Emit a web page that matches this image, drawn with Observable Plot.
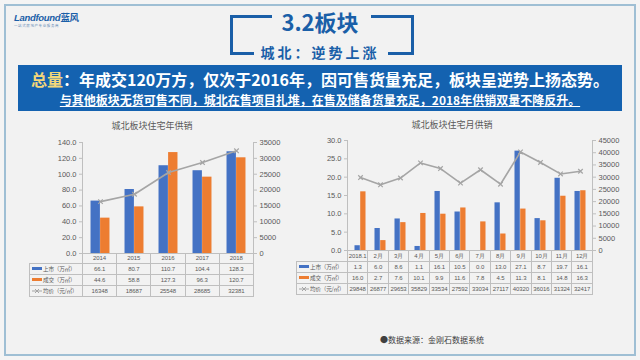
<!DOCTYPE html>
<html><head><meta charset="utf-8">
<script src="https://cdn.jsdelivr.net/npm/d3@7"></script>
<script src="https://cdn.jsdelivr.net/npm/@observablehq/plot@0.6"></script>
<style>
html,body{margin:0;padding:0;width:640px;height:360px;overflow:hidden;background:#f4f4f4;font-family:"Noto Sans CJK SC","Noto Sans",sans-serif;}
.abs{position:absolute;}
#frame{left:4px;top:4px;width:628px;height:348px;border:2px solid #9fbfd4;background:#f2f2f2;}
.br{position:absolute;background:#1a5fa8;}
#title{left:0;width:640px;top:6px;text-align:center;font-size:22px;font-weight:bold;color:#1a5fa8;line-height:30px;}
#sub{left:0;width:640px;top:42px;text-align:center;font-size:14px;font-weight:bold;color:#1a5fa8;letter-spacing:3px;line-height:20px;}
#banner{left:18px;top:65px;width:604px;height:46px;background:#1462b0;}
#l1{left:0;width:640px;top:68px;text-align:center;font-size:16px;font-weight:bold;color:#fff;line-height:22px;}
#l1 span{color:#f3d77a;}
#l2{left:0;width:640px;top:92px;text-align:center;font-size:12px;font-weight:bold;color:#fff;line-height:16px;text-decoration:underline;}
.ctitle{font-size:9px;color:#595959;text-align:center;line-height:12px;}
table.dt{position:absolute;border-collapse:collapse;table-layout:fixed;font-family:"Liberation Sans",Arial,sans-serif;color:#595959;}
table.dt td{border:1px solid #bfbfbf;padding:0;text-align:center;font-size:6px;line-height:9px;overflow:visible;white-space:nowrap;letter-spacing:-0.1px;}
table.dt td.blank{border:none;border-bottom:1px solid #bfbfbf;}
table.dt td.lab{text-align:left;font-family:"Noto Sans CJK SC",sans-serif;font-size:5.6px;padding-left:2px;letter-spacing:-0.2px;}
.sw{display:inline-block;width:10px;height:3px;vertical-align:middle;margin-right:1px;}
#logo{left:14px;top:10px;font-size:9.5px;font-weight:bold;font-style:italic;color:#1a5fa8;font-family:"Liberation Sans",Arial,sans-serif;letter-spacing:-0.3px;}
#logo2{left:14px;top:23px;font-size:3.5px;color:#6b8fb8;letter-spacing:0.6px;}
#src{left:380px;top:334px;font-size:8px;color:#404040;line-height:12px;}
</style></head>
<body>
<div id="frame" class="abs"></div>
<div id="logo" class="abs">Landfound<span style="font-family:'Noto Sans CJK SC';font-style:normal;">蓝风</span></div>
<div id="logo2" class="abs">一站式房地产专业服务商</div>
<div class="br" style="left:230px;top:15px;width:42px;height:3px;"></div>
<div class="br" style="left:230px;top:15px;width:3px;height:40px;"></div>
<div class="br" style="left:230px;top:52px;width:24px;height:3px;"></div>
<div class="br" style="left:371px;top:15px;width:43px;height:3px;"></div>
<div class="br" style="left:411px;top:15px;width:3px;height:40px;"></div>
<div class="br" style="left:388px;top:52px;width:26px;height:3px;"></div>
<div id="title" class="abs">3.2板块</div>
<div id="sub" class="abs">城北：逆势上涨</div>
<div id="banner" class="abs"></div>
<div id="l1" class="abs"><span>总量</span>：年成交120万方，仅次于2016年，因可售货量充足，板块呈逆势上扬态势。</div>
<div id="l2" class="abs">与其他板块无货可售不同，城北在售项目扎堆，在售及储备货量充足，2018年供销双量不降反升。</div>
<div id="c1t" class="abs ctitle" style="left:100px;width:104px;top:120px;">城北板块住宅年供销</div>
<div id="c2t" class="abs ctitle" style="left:400px;width:104px;top:119px;">城北板块住宅月供销</div>
<div id="src" class="abs">●数据来源：金刚石数据系统</div>
<script>
// ---- data ----
const years = ["2014","2015","2016","2017","2018"];
const yearSupply = [66.1, 80.7, 110.7, 104.4, 128.3];
const yearSales = [44.6, 58.8, 127.3, 96.3, 120.7];
const yearPrice = [16348, 18687, 25548, 28685, 32381];

const months = ["2018.1","2月","3月","4月","5月","6月","7月","8月","9月","10月","11月","12月"];
const monthSupply = [1.3, 6.0, 8.6, 1.1, 16.1, 10.5, 0.0, 13.0, 27.1, 8.7, 19.7, 16.1];
const monthSales = [16.0, 2.7, 7.6, 10.1, 9.9, 11.6, 7.8, 4.5, 11.3, 8.1, 14.8, 16.3];
const monthPrice = [29848, 26877, 29653, 35829, 33534, 27592, 33034, 27117, 40320, 36016, 31324, 32417];

const seriesLabels = ["上市（万㎡）","成交（万㎡）","均价（元/㎡）"];
const BLUE = "#4472c4", ORANGE = "#ed7d31", GRAY = "#a5a5a5";

function makeChart(o) {
  const rows = o.cats.map((c, i) => ({cat: c, supply: o.supply[i], sales: o.sales[i], price: o.price[i]}));
  const plotW = o.width - o.ml - o.mr;
  const step = plotW / o.cats.length;
  const ratio = o.y2Max / o.yMax;
  const chart = Plot.plot({
    width: o.width, height: o.height,
    marginLeft: o.ml, marginRight: o.mr, marginTop: o.mt, marginBottom: o.mb,
    style: {background: "transparent", color: "#595959", fontSize: "7.5px", fontFamily: "Liberation Sans, Arial, sans-serif", overflow: "visible"},
    x: {domain: o.cats, paddingInner: 0, paddingOuter: 0, axis: null},
    y: {domain: [0, o.yMax], axis: null},
    marks: [
      Plot.axisY({ticks: d3.range(0, o.yMax + 1e-9, o.yStep), tickFormat: d => d.toFixed(1), tickSize: 3, tickPadding: 3, stroke: "#bfbfbf"}),
      Plot.axisY({anchor: "right", ticks: d3.range(0, o.y2Max + 1, o.y2Step).map(v => v / ratio), tickFormat: d => String(Math.round(d * ratio)), tickSize: 3, tickPadding: 3, stroke: "#bfbfbf"}),
      Plot.frame({anchor: "left", stroke: "#bfbfbf"}),
      Plot.frame({anchor: "right", stroke: "#bfbfbf"}),
      Plot.barY(rows, {x: "cat", y: "supply", fill: BLUE, insetLeft: step * 0.22, insetRight: step * 0.5}),
      Plot.barY(rows, {x: "cat", y: "sales", fill: ORANGE, insetLeft: step * 0.5, insetRight: step * 0.22}),
      Plot.ruleY([0], {stroke: "#bfbfbf"}),
      Plot.line(rows, {x: "cat", y: d => d.price / ratio, stroke: GRAY, strokeWidth: 1.6}),
      Plot.dot(rows, {x: "cat", y: d => d.price / ratio, symbol: "times", r: 2.2, stroke: GRAY, strokeWidth: 1.2})
    ]
  });
  chart.style.position = "absolute";
  chart.style.left = o.left + "px";
  chart.style.top = o.top + "px";
  document.body.appendChild(chart);

  // data table
  const t = document.createElement("table");
  t.className = "dt";
  t.style.left = (o.left + o.ml - o.labW) + "px";
  t.style.top = (o.top + o.height - o.mb) + "px";
  t.style.width = (o.labW + plotW) + "px";
  let html = `<colgroup><col style="width:${o.labW}px">` + o.cats.map(() => `<col style="width:${step}px">`).join("") + `</colgroup>`;
  html += `<tr style="height:${o.headH}px"><td class="blank"></td>` + o.cats.map(c => `<td>${c}</td>`).join("") + `</tr>`;
  const sw = [
    `<span class="sw" style="background:${BLUE}"></span>`,
    `<span class="sw" style="background:${ORANGE}"></span>`,
    `<svg width="10" height="6" style="vertical-align:middle;margin-right:1px"><line x1="0" y1="3" x2="10" y2="3" stroke="${GRAY}" stroke-width="1"/><path d="M3,1L7,5M7,1L3,5" stroke="${GRAY}" stroke-width="1"/></svg>`
  ];
  const vals = [o.supply.map(v => v.toFixed(1)), o.sales.map(v => v.toFixed(1)), o.price.map(v => String(v))];
  for (let r = 0; r < 3; r++) {
    html += `<tr style="height:${o.rowH}px"><td class="lab">${sw[r]}${seriesLabels[r]}</td>` + vals[r].map(v => `<td>${v}</td>`).join("") + `</tr>`;
  }
  t.innerHTML = html;
  document.body.appendChild(t);
}

makeChart({cats: years, supply: yearSupply, sales: yearSales, price: yearPrice,
  yMax: 140, yStep: 20, y2Max: 35000, y2Step: 5000,
  left: 20, top: 130, width: 270, height: 124, ml: 62, mr: 37, mt: 12, mb: 1,
  labW: 53, headH: 9, rowH: 11});

makeChart({cats: months, supply: monthSupply, sales: monthSales, price: monthPrice,
  yMax: 30, yStep: 5, y2Max: 45000, y2Step: 5000,
  left: 300, top: 128, width: 330, height: 123, ml: 47, mr: 38, mt: 12, mb: 1,
  labW: 51, headH: 11, rowH: 11});
</script>
</body></html>
